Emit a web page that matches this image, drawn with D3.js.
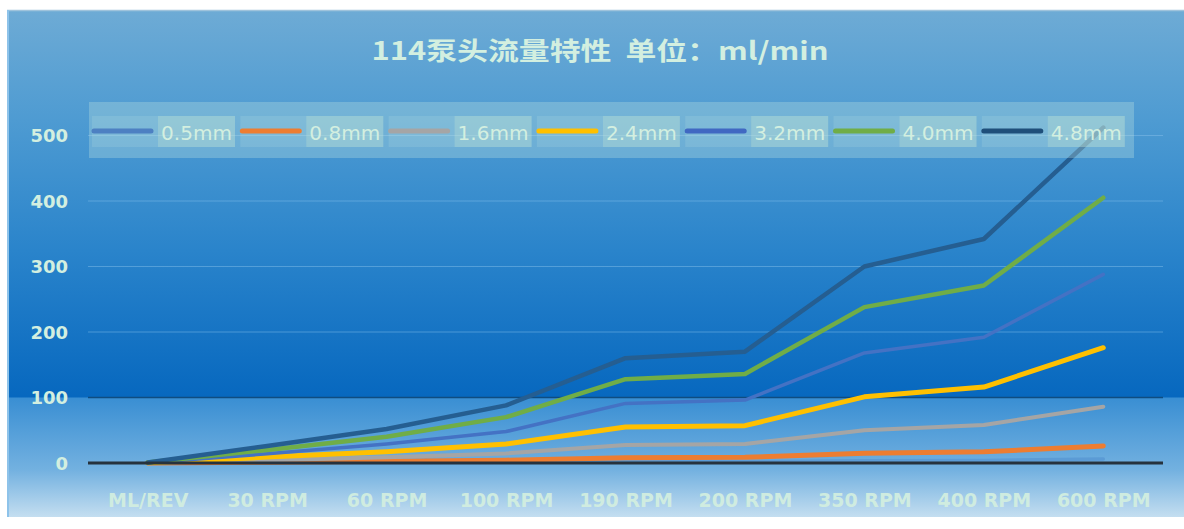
<!DOCTYPE html>
<html><head><meta charset="utf-8">
<script src="https://cdn.jsdelivr.net/npm/d3@7"></script>
<style>body{margin:0;background:#fff;overflow:hidden}</style>
</head><body>
<svg id="c" width="1184" height="529"></svg>
<script>
// ---- data ----
const categories = ["ML/REV","30 RPM","60 RPM","100 RPM","190 RPM","200 RPM","350 RPM","400 RPM","600 RPM"];
const seriesNames = ["0.5mm","0.8mm","1.6mm","2.4mm","3.2mm","4.0mm","4.8mm"];
const s05 = [0.01, 0.3, 0.6, 1, 1.9, 2, 3.5, 4, 6];
const s08 = [0.043, 1.3, 2.6, 4.3, 8.2, 8.6, 15, 17, 26];
const s16 = [0.14, 4.3, 8.6, 14.5, 27.5, 29, 50, 58, 86];
const s24 = [0.29, 9, 17, 29, 55, 57, 101, 116, 176];
const s32 = [0.48, 14, 29, 48, 91, 96, 168, 192, 288];
const s40 = [0.67, 20, 40, 70, 128, 136, 238, 271, 405];
const s48 = [0.85, 26, 52, 88, 160, 170, 300, 342, 512];
const yTicks = [0,100,200,300,400,500];
const titleText = "114泵头流量特性  单位：ml/min";

// ---- styles ----
const seriesValues = [s05,s08,s16,s24,s32,s40,s48];
const colors = ["#5B9BD5","#ED7D31","#A5A5A5","#FFC000","#4472C4","#70AD47","#255E91"];
const widths = [3.5,5,4,5,3.5,4.5,4.5];
const legendColors = ["#4d80c2","#ED7D31","#A5A5A5","#FFC000","#4068c2","#70AD47","#1f4f7a"];
const textColor = "#d3efe0";

const svg = d3.select("#c");
const box = {x0:7, y0:10, x1:1184, y1:517};

const x = d3.scalePoint().domain(categories).range([88,1163]).padding(0.5);
const y = d3.scaleLinear().domain([0,500]).range([463,135.5]);

// background gradient
const defs = svg.append("defs");
const g = defs.append("linearGradient").attr("id","bg")
  .attr("gradientUnits","userSpaceOnUse").attr("x1",0).attr("x2",0)
  .attr("y1",box.y0).attr("y2",box.y1);
const off = py => (py-box.y0)/(box.y1-box.y0);
const y100 = y(100);
[[box.y0,"#6eabd5"],[120,"#4e9bd2"],[250,"#2a84cb"],[y100-1,"#0768bf"],
 [y100+1,"#3a8fd3"],[470,"#73b1e0"],[box.y1,"#c4def0"]]
 .forEach(([py,c])=>g.append("stop").attr("offset",off(py)).attr("stop-color",c));

svg.append("rect").attr("x",box.x0).attr("y",box.y0)
  .attr("width",box.x1-box.x0).attr("height",box.y1-box.y0)
  .attr("fill","url(#bg)");
svg.append("line").attr("x1",box.x0).attr("x2",box.x1).attr("y1",box.y0+0.5).attr("y2",box.y0+0.5)
  .attr("stroke","#9fc3dc").attr("stroke-width",1.5);
svg.append("line").attr("x1",box.x0+1).attr("x2",box.x0+1).attr("y1",box.y0).attr("y2",box.y1)
  .attr("stroke","#8ec3ea").attr("stroke-width",2);

// gridlines
const xr = [88,1163];
svg.append("g").selectAll("line").data(yTicks.filter(t=>t>0)).join("line")
  .attr("x1",xr[0]).attr("x2",xr[1])
  .attr("y1",d=>y(d)).attr("y2",d=>y(d))
  .attr("stroke",d=>d===100?"#0f4c80":"rgba(140,195,235,0.45)")
  .attr("stroke-width",d=>d===100?1.6:1);

// title
svg.append("text").attr("x",600).attr("y",60).attr("text-anchor","middle")
  .style("white-space","pre").attr("xml:space","preserve")
  .attr("font-family","'Noto Sans CJK SC', sans-serif").attr("font-weight","bold")
  .attr("font-size",25).attr("fill",textColor)
  .attr("textLength",457).attr("lengthAdjust","spacingAndGlyphs")
  .text(titleText);

// axes
const yAxis = svg.append("g").attr("transform","translate(68,0)")
  .call(d3.axisLeft(y).tickValues(yTicks).tickSize(0).tickPadding(0));
yAxis.select(".domain").remove();
yAxis.selectAll("text").attr("font-family","'DejaVu Sans', sans-serif")
  .attr("font-weight","bold").attr("font-size",18).attr("fill",textColor).attr("dy","0.36em");

const xAxis = svg.append("g").attr("transform","translate(0,463)")
  .call(d3.axisBottom(x).tickSize(0).tickPadding(0));
xAxis.select(".domain").remove();
xAxis.selectAll("text").attr("font-family","'DejaVu Sans', sans-serif")
  .attr("font-weight","bold").attr("font-size",19).attr("fill",textColor)
  .attr("dy",0).attr("y",44).attr("opacity",0.92);

// lines
const line = d3.line().x((d,i)=>x(categories[i])).y(d=>y(d));
svg.append("g").selectAll("path").data(seriesValues).join("path")
  .attr("d",d=>line(d)).attr("fill","none")
  .attr("stroke",(d,i)=>colors[i]).attr("stroke-width",(d,i)=>widths[i])
  .attr("stroke-linejoin","round").attr("stroke-linecap","round");

// zero axis line (on top)
svg.append("line").attr("x1",xr[0]).attr("x2",xr[1]).attr("y1",y(0)).attr("y2",y(0))
  .attr("stroke","#26323d").attr("stroke-width",3);

// legend
const lg = svg.append("g");
lg.append("rect").attr("x",89).attr("y",102).attr("width",1045).attr("height",56)
  .attr("fill","rgba(190,228,225,0.32)");
const pitch = 148.3;
const items = lg.selectAll("g.it").data(seriesNames).join("g").attr("class","it")
  .attr("transform",(d,i)=>`translate(${92 + i*pitch},0)`);
items.append("rect").attr("x",0).attr("y",116).attr("width",143).attr("height",31)
  .attr("fill","rgba(190,228,225,0.18)");
items.append("rect").attr("x",66).attr("y",116).attr("width",77).attr("height",31)
  .attr("fill","rgba(200,235,210,0.28)");
items.append("line").attr("x1",2).attr("x2",59).attr("y1",131).attr("y2",131)
  .attr("stroke",(d,i)=>legendColors[i]).attr("stroke-width",5).attr("stroke-linecap","round");
items.append("text").attr("x",69).attr("y",140)
  .attr("font-family","'DejaVu Sans', sans-serif").attr("font-size",19)
  .attr("fill",textColor).attr("textLength",71).attr("lengthAdjust","spacingAndGlyphs")
  .text(d=>d);
</script>
</body></html>
